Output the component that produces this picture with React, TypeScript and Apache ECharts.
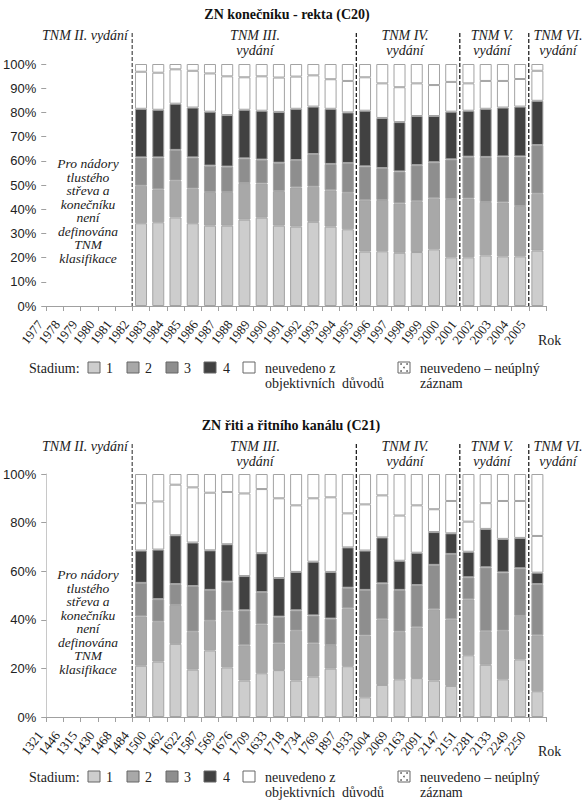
import { useEffect, useRef } from 'react'
import * as echarts from 'echarts'

// kategorie osy x
const YEARS = ['1977', '1978', '1979', '1980', '1981', '1982', '1983', '1984', '1985', '1986', '1987', '1988', '1989', '1990', '1991', '1992', '1993', '1994', '1995', '1996', '1997', '1998', '1999', '2000', '2001', '2002', '2003', '2004', '2005']
const CASES = ['1321', '1446', '1315', '1430', '1468', '1484', '1500', '1462', '1622', '1587', '1569', '1676', '1709', '1633', '1718', '1734', '1769', '1897', '1933', '2004', '2069', '2163', '2091', '2147', '2151', '2281', '2133', '2249', '2250']
const EMPTY_LEADING = 5 // bez TNM klasifikace

// hranice vydání TNM (index kategorie)
const EDITION_BREAKS = [5, 18, 24, 28]

// C20 – podíly stadií (%), roky 1982–2005
const C20_S1 = [34.2, 34.6, 36.6, 34.2, 33.2, 33.2, 35.7, 36.5, 33.2, 32.8, 34.8, 32.8, 31.7, 22.5, 22.6, 22.0, 22.3, 23.4, 20.1, 20.1, 20.9, 20.5, 20.5, 22.9]
const C20_S2 = [15.5, 13.6, 15.2, 14.3, 13.9, 13.9, 15.1, 14.1, 14.3, 16.2, 14.5, 15.0, 15.1, 21.2, 21.2, 20.4, 21.0, 21.1, 24.1, 24.3, 22.1, 22.3, 20.8, 23.5]
const C20_S3 = [11.7, 13.2, 12.7, 12.9, 10.9, 10.5, 10.2, 9.9, 11.7, 11.3, 13.5, 10.9, 12.3, 14.0, 13.2, 13.2, 14.9, 14.9, 16.4, 17.3, 18.6, 19.0, 20.5, 20.1]
const C20_S4 = [20.1, 19.7, 19.1, 20.6, 22.3, 21.3, 20.1, 20.2, 21.0, 21.2, 19.6, 22.8, 20.9, 23.0, 20.7, 20.4, 20.3, 19.1, 19.7, 19.0, 19.9, 20.2, 20.6, 18.3]
const C20_NO = [15.3, 15.3, 14.2, 15.2, 15.8, 16.0, 13.4, 14.2, 14.2, 13.3, 12.9, 12.2, 13.0, 13.8, 14.3, 14.4, 13.5, 12.8, 12.3, 11.3, 11.5, 11.0, 11.4, 12.4]
const C20_NI = [3.2, 3.6, 2.2, 2.8, 3.9, 5.1, 5.5, 5.1, 5.6, 5.2, 4.7, 6.3, 7.0, 5.5, 8.0, 9.6, 8.0, 8.7, 7.4, 8.0, 7.0, 7.0, 6.2, 2.8]

// C21 – podíly stadií (%)
const C21_S1 = [21.1, 22.8, 30.1, 19.5, 27.4, 20.4, 15.0, 18.0, 19.3, 15.0, 16.6, 19.9, 20.9, 8.1, 13.2, 15.5, 16.0, 15.0, 12.8, 25.4, 21.5, 15.5, 23.7, 10.6]
const C21_S2 = [20.3, 16.4, 16.0, 15.6, 12.2, 23.1, 14.5, 20.1, 11.0, 20.5, 13.7, 9.7, 23.8, 25.4, 27.0, 19.6, 20.9, 29.3, 27.4, 23.0, 13.8, 20.0, 17.9, 23.0]
const C21_S3 = [13.8, 9.3, 8.6, 18.8, 12.7, 12.2, 14.4, 13.3, 11.0, 8.4, 11.5, 10.9, 8.5, 18.8, 14.8, 17.2, 17.4, 18.3, 26.9, 9.1, 26.3, 24.0, 19.6, 21.1]
const C21_S4 = [13.3, 20.4, 20.1, 17.9, 16.3, 15.4, 14.1, 16.0, 15.9, 15.8, 22.1, 19.2, 16.6, 16.2, 18.9, 12.0, 13.3, 13.5, 8.5, 10.5, 15.8, 13.8, 12.5, 4.7]
const C21_NO = [19.5, 19.8, 20.8, 22.7, 23.7, 21.5, 34.0, 26.4, 32.8, 27.4, 26.1, 30.7, 14.0, 19.0, 17.3, 18.6, 19.5, 9.4, 13.3, 12.4, 10.6, 15.6, 15.2, 15.1]
const C21_NI = [12.0, 11.3, 4.4, 5.5, 7.7, 7.4, 8.0, 6.2, 10.0, 12.9, 10.0, 9.6, 16.2, 12.5, 8.8, 17.1, 12.9, 14.5, 11.1, 19.6, 12.0, 11.1, 11.1, 25.5]

const SERIES_NAMES = ['1', '2', '3', '4', 'neuvedeno z objektivních důvodů', 'neuvedeno – neúplný záznam']
const COLORS = ['#cdcdcd', '#a8a8a8', '#8e8e8e', '#414141', '#ffffff', '#ffffff']

const SERIF = "'Liberation Serif', 'DejaVu Serif', serif"
const SANS = "'Liberation Sans', Arial, sans-serif"

const GRID_LEFT = 46
const GRID_W = 500
const PANEL_OFFSET = 411

const pad = (a: number[]) => [...Array(EMPTY_LEADING).fill(null), ...a]

export default function App() {
  const chartRef = useRef<HTMLDivElement>(null)

  useEffect(() => {
    if (!chartRef.current) return
    document.body.style.margin = '0'
    const chart = echarts.init(chartRef.current, null, { renderer: 'svg' })

    const panels = [
      { grid: { left: GRID_LEFT, top: 64, width: GRID_W, height: 242 }, cats: YEARS, step: 10, axisLine: false,
        data: [C20_S1, C20_S2, C20_S3, C20_S4, C20_NO, C20_NI] },
      { grid: { left: GRID_LEFT, top: 474, width: GRID_W, height: 243 }, cats: CASES, step: 20, axisLine: true,
        data: [C21_S1, C21_S2, C21_S3, C21_S4, C21_NO, C21_NI] },
    ]

    const series: any[] = []
    panels.forEach((p, gi) => {
      p.data.forEach((vals, si) => {
        series.push({
          name: SERIES_NAMES[si],
          type: 'bar',
          stack: 'p' + gi,
          xAxisIndex: gi,
          yAxisIndex: gi,
          barWidth: 12,
          data: pad(vals),
          itemStyle: { color: COLORS[si], borderColor: '#a3a3a3', borderWidth: 1 },
        })
      })
    })

    const catX = (i: number) => GRID_LEFT + (GRID_W * i) / YEARS.length

    const graphic: any[] = []
    const italic = (text: string, x: number, y: number, align = 'center') => ({
      type: 'text', x, y,
      style: { text, font: `italic 14px ${SERIF}`, fill: '#222', textAlign: align, textVerticalAlign: 'middle' },
    })
    const txt = (text: string, x: number, y: number) => ({
      type: 'text', x, y,
      style: { text, font: `14px ${SERIF}`, fill: '#222', textVerticalAlign: 'middle' },
    })

    ;[0, PANEL_OFFSET].forEach((dy, gi) => {
      // přerušované čáry vydání
      EDITION_BREAKS.forEach((b, k) => {
        graphic.push({
          type: 'line',
          shape: { x1: catX(b), y1: 33 + dy, x2: catX(b), y2: panels[gi].grid.top + panels[gi].grid.height },
          style: { stroke: k === 0 ? '#555' : '#222', lineWidth: 1.3, lineDash: [4, 2] },
        })
      })
      graphic.push(italic('TNM II. vydání', 128, 35 + dy, 'right'))
      graphic.push(italic('TNM III.', 255, 35 + dy), italic('vydání', 255, 50 + dy))
      graphic.push(italic('TNM IV.', 405, 35 + dy), italic('vydání', 405, 50 + dy))
      graphic.push(italic('TNM V.', 492, 35 + dy), italic('vydání', 492, 50 + dy))
      graphic.push(italic('TNM VI.', 558, 35 + dy), italic('vydání', 558, 50 + dy))
      graphic.push({
        type: 'text', x: 88, y: 211 + dy,
        style: {
          text: 'Pro nádory\ntlustého\nstřeva a\nkonečníku\nnení\ndefinována\nTNM\nklasifikace',
          font: `italic 13.5px ${SERIF}`, lineHeight: 13.5,
          fill: '#222', textAlign: 'center', textVerticalAlign: 'middle',
        },
      })
      graphic.push(txt('Rok', 538, 340 + dy))

      // legenda
      const ly = gi === 0 ? 368 : 777
      graphic.push(txt('Stadium:', 29, ly))
      const boxes = [88, 127, 166, 204, 243, 398]
      boxes.forEach((bx, i) => {
        graphic.push({
          type: 'rect', shape: { x: bx, y: ly - 6, width: 12, height: 11 },
          style: { fill: COLORS[i], stroke: '#666', lineWidth: 1 },
        })
      })
      ;[[2, 2], [8, 2], [5, 5.5], [2, 9], [8, 9]].forEach(([dx, dd]) => {
        graphic.push({
          type: 'circle', shape: { cx: 398 + dx + 1, cy: ly - 6 + dd, r: 0.8 },
          style: { fill: '#555' },
        })
      })
      graphic.push(txt('1', 106, ly), txt('2', 145, ly), txt('3', 184, ly), txt('4', 223, ly))
      graphic.push(txt('neuvedeno z', 265, ly), txt('objektivních  důvodů', 265, ly + 15))
      graphic.push(txt('neuvedeno – neúplný', 420, ly), txt('záznam', 420, ly + 15))
    })

    const option: echarts.EChartsOption = {
      animation: false,
      title: [
        { text: 'ZN konečníku - rekta (C20)', left: 282, top: 2, textAlign: 'center',
          textStyle: { fontFamily: SERIF, fontSize: 14, fontWeight: 'bold', color: '#111' } },
        { text: 'ZN řiti a řitního kanálu (C21)', left: 286, top: 2 + PANEL_OFFSET, textAlign: 'center',
          textStyle: { fontFamily: SERIF, fontSize: 14, fontWeight: 'bold', color: '#111' } },
      ],
      grid: panels.map(p => p.grid),
      xAxis: panels.map((p, i) => ({
        type: 'category',
        gridIndex: i,
        data: p.cats,
        axisLine: { lineStyle: { color: '#a0a0a0' } },
        axisTick: { show: true, interval: 0, length: 5, lineStyle: { color: '#a0a0a0' } },
        axisLabel: {
          interval: 0, rotate: 52, margin: -3, padding: [0, 24, 0, 0],
          fontFamily: SERIF, fontSize: 13, color: '#222',
        },
      })),
      yAxis: panels.map((p, i) => ({
        type: 'value',
        gridIndex: i,
        min: 0,
        max: 100,
        interval: p.step,
        axisLine: { show: p.axisLine, lineStyle: { color: '#c8c8c8' } },
        axisTick: { show: true, length: 5, lineStyle: { color: '#a0a0a0' } },
        splitLine: { show: false },
        axisLabel: { formatter: '{value}%', margin: 10, fontFamily: SANS, fontSize: 13, color: '#222' },
      })),
      series,
      graphic,
    }

    chart.setOption(option)
    return () => chart.dispose()
  }, [])

  return <div ref={chartRef} style={{ width: 584, height: 800 }} />
}
